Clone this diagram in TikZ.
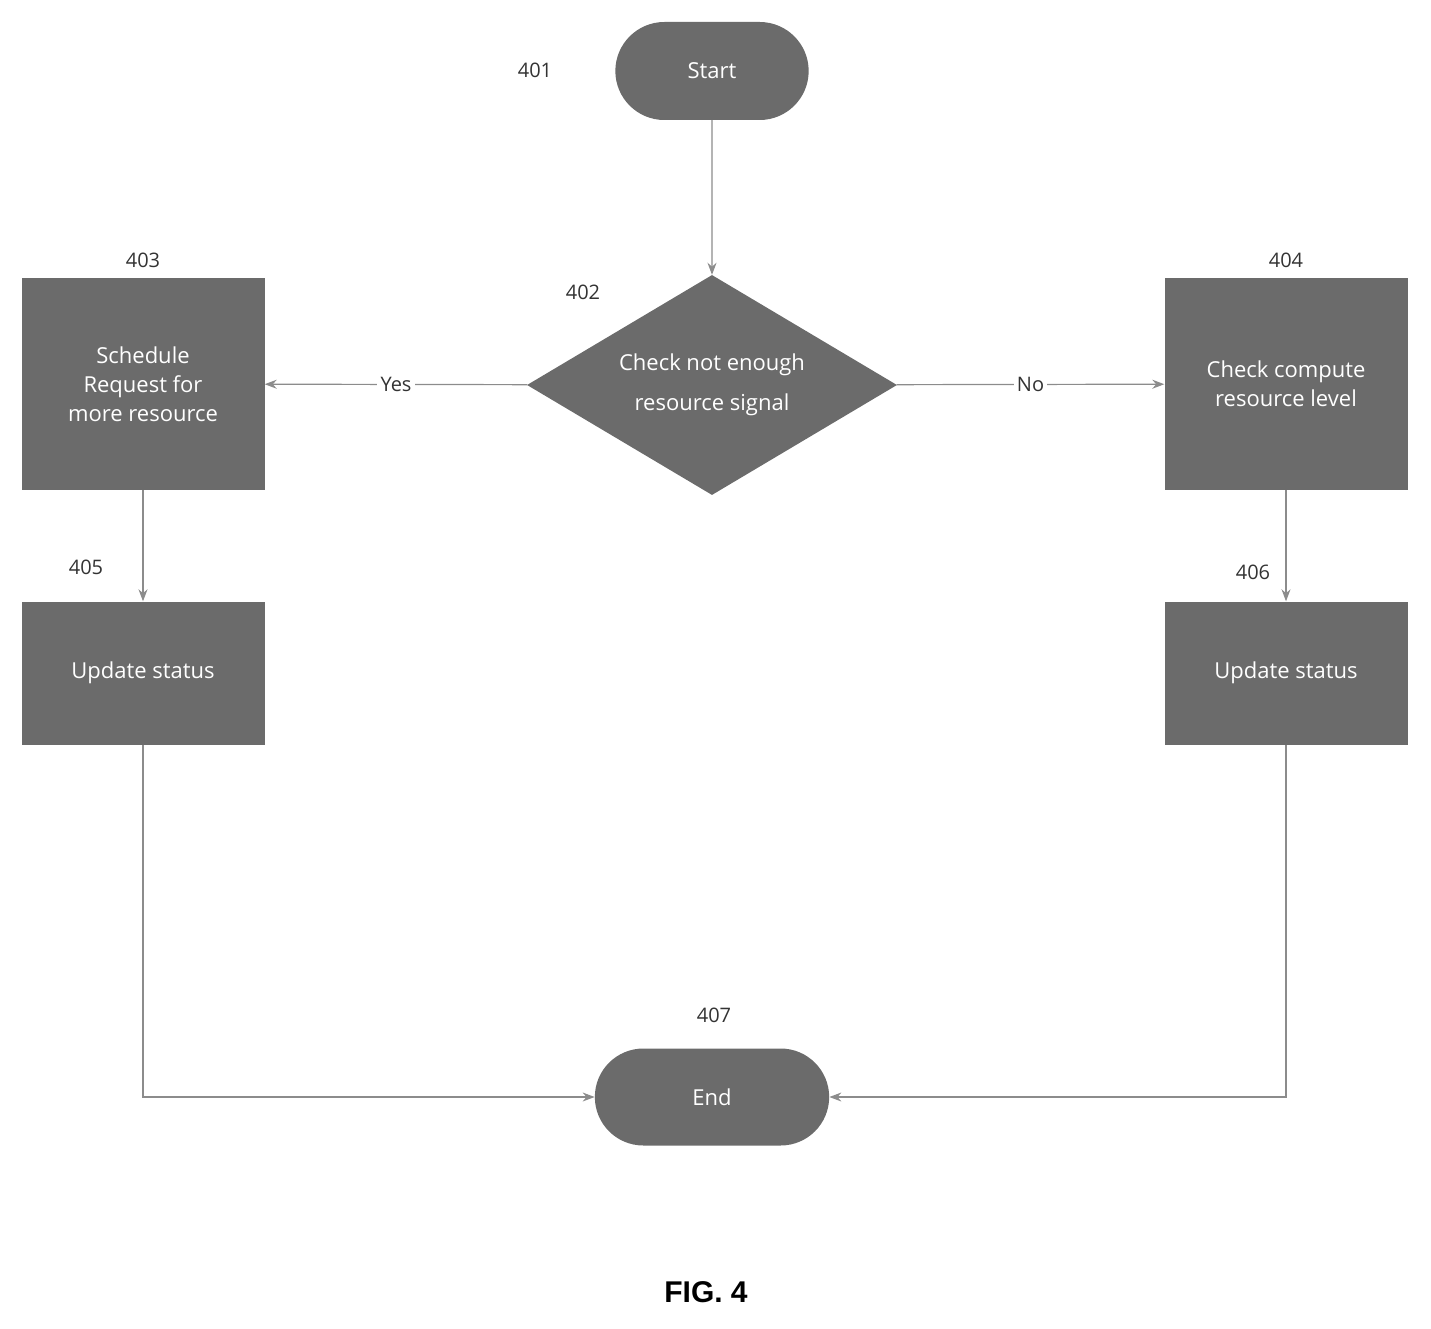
\documentclass[tikz,border=0pt]{standalone}
\usepackage{fontspec}
\setmainfont{Open Sans}
\newfontfamily\figfont{Liberation Sans}
\usetikzlibrary{shapes.geometric,shapes.misc,arrows.meta}
\definecolor{boxgray}{gray}{0.42}
\definecolor{linegray}{gray}{0.55}
\tikzset{
  process/.style={rectangle, fill=boxgray, text=white, align=center,
    font=\fontsize{22}{29}\selectfont},
  term/.style={rounded rectangle, fill=boxgray, text=white,
    font=\fontsize{22}{29}\selectfont},
  ref/.style={font=\fontsize{20}{24}\selectfont, text=black!80},
  flow/.style={draw=linegray, line width=1.2pt, -{Stealth[length=12pt,width=9pt]}}
}
\begin{document}
\begin{tikzpicture}[x=1pt,y=-1pt]
  \useasboundingbox (0,0) rectangle (1431,1329);

  % Terminals
  \node[term, minimum width=200pt, minimum height=98pt] (start) at (712,71) {Start};
  \node[term, minimum width=241pt, minimum height=97pt] (end) at (712,1097) {End};

  % Decision
  \node[diamond, fill=boxgray, text=white, align=center, aspect=1.68,
    inner sep=0pt, minimum width=370pt, minimum height=220pt,
    font=\fontsize{22}{40}\selectfont] (check) at (712,385)
    {Check not enough\\resource signal};

  % Steps
  \node[process, minimum width=243pt, minimum height=212pt] (sched) at (143,384)
    {Schedule\\Request for\\more resource};
  \node[process, minimum width=243pt, minimum height=212pt] (level) at (1286,384)
    {Check compute\\resource level};
  \node[process, minimum width=243pt, minimum height=143pt] (updl) at (143,673) {Update status};
  \node[process, minimum width=243pt, minimum height=143pt] (updr) at (1286,673) {Update status};

  % Reference numerals
  \node[ref] (n401) at (535,70) {401};
  \node[ref] (n402) at (583,292) {402};
  \node[ref] (n403) at (143,260) {403};
  \node[ref] (n404) at (1286,260) {404};
  \node[ref] (n405) at (86,567) {405};
  \node[ref] (n406) at (1253,572) {406};
  \node[ref] (n407) at (714,1015) {407};

  % Connectors
  \draw[flow] (start) -- (check);
  \draw[flow] (check) -- node[fill=white, ref] (yes) {Yes} (sched);
  \draw[flow] (check) -- node[fill=white, ref] (no) {No} (level);
  \draw[flow] (sched) -- (updl);
  \draw[flow] (level) -- (updr);
  \draw[flow] (updl.south) |- (end.west);
  \draw[flow] (updr.south) |- (end.east);

  \node[font=\fontsize{30}{36}\selectfont\bfseries\figfont] (fig) at (706,1292) {FIG. 4};
\end{tikzpicture}
\end{document}
